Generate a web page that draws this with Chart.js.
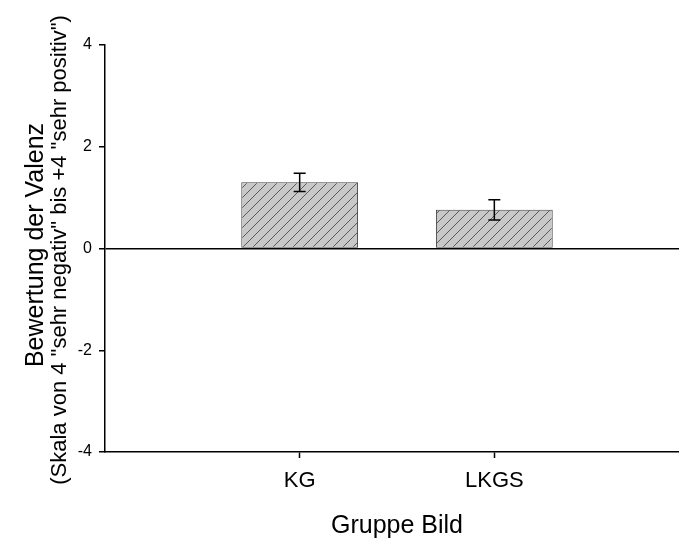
<!DOCTYPE html>
<html>
<head>
<meta charset="utf-8">
<script src="https://cdn.jsdelivr.net/npm/chart.js@4.4.0/dist/chart.umd.min.js"></script>
<style>
  html, body { margin: 0; padding: 0; background: #fff; overflow: hidden; }
  #wrap { width: 689px; height: 539px; }
</style>
</head>
<body>
<div id="wrap"><canvas id="valenzChart" width="689" height="539"></canvas></div>
<script>
  // Values
  const categories = ["KG", "LKGS"];
  const means = [1.30, 0.76];
  const errors = [0.18, 0.20];
  const yTicks = [-4, -2, 0, 2, 4];

  const yTitle = "Bewertung der Valenz";
  const ySubTitle = '(Skala von 4 "sehr negativ" bis +4 "sehr positiv")';
  const xTitle = "Gruppe Bild";

  const FONT = "'Liberation Sans', Arial, sans-serif";

  (function () {
    "use strict";

    const canvas = document.getElementById("valenzChart");
    const ctx = canvas.getContext("2d");

    // diagonal hatch fill for the bars
    function makeHatch() {
      const c = document.createElement("canvas");
      c.width = 10;
      c.height = 10;
      const g = c.getContext("2d");
      g.fillStyle = "#c8c8c8";
      g.fillRect(0, 0, 10, 10);
      g.strokeStyle = "#5a5a5a";
      g.lineWidth = 1;
      g.beginPath();
      g.moveTo(0, 10); g.lineTo(10, 0);
      g.moveTo(-5, 5); g.lineTo(5, -5);
      g.moveTo(5, 15); g.lineTo(15, 5);
      g.stroke();
      return ctx.createPattern(c, "repeat");
    }

    // error bars drawn on top of the bars
    const errorBars = {
      id: "errorBars",
      afterDatasetsDraw(chart) {
        const meta = chart.getDatasetMeta(0);
        const y = chart.scales.y;
        const c = chart.ctx;
        c.save();
        c.strokeStyle = "#000";
        c.lineWidth = 1.5;
        meta.data.forEach(function (bar, i) {
          const top = y.getPixelForValue(means[i] + errors[i]);
          const bot = y.getPixelForValue(means[i] - errors[i]);
          c.beginPath();
          c.moveTo(bar.x, top); c.lineTo(bar.x, bot);
          c.moveTo(bar.x - 6, top); c.lineTo(bar.x + 6, top);
          c.moveTo(bar.x - 6, bot); c.lineTo(bar.x + 6, bot);
          c.stroke();
        });
        c.restore();
      },
    };

    // axis titles (two sizes on the y side)
    const axisTitles = {
      id: "axisTitles",
      afterDraw(chart) {
        const a = chart.chartArea;
        const c = chart.ctx;
        c.save();
        c.fillStyle = "#000";
        c.textAlign = "center";
        c.textBaseline = "alphabetic";

        c.font = "25px " + FONT;
        c.fillText(xTitle, (a.left + a.right) / 2, 533);

        c.save();
        c.translate(43, 245);
        c.rotate(-Math.PI / 2);
        c.font = "25px " + FONT;
        c.fillText(yTitle, 0, 0);
        c.restore();

        c.save();
        c.translate(66, 250);
        c.rotate(-Math.PI / 2);
        c.font = "22px " + FONT;
        c.fillText(ySubTitle, 0, 0);
        c.restore();

        c.restore();
      },
    };

    new Chart(ctx, {
      type: "bar",
      data: {
        datasets: [
          {
            data: categories.map(function (c, i) {
              return { x: i + 1, y: means[i] };
            }),
            backgroundColor: makeHatch(),
            borderColor: "#444",
            borderWidth: 1,
            borderSkipped: false,
            categoryPercentage: 1,
            barPercentage: 0.6,
          },
        ],
      },
      options: {
        responsive: false,
        animation: false,
        layout: { padding: { top: 45, right: 0, bottom: 0, left: 0 } },
        plugins: {
          legend: { display: false },
          tooltip: { enabled: false },
        },
        scales: {
          x: {
            type: "linear",
            min: 0,
            max: 3,
            offset: false,
            afterBuildTicks: function (scale) {
              scale.ticks = categories.map(function (c, i) {
                return { value: i + 1 };
              });
            },
            afterFit: function (scale) {
              scale.height = 87;
            },
            grid: {
              offset: false,
              drawOnChartArea: false,
              tickLength: 6,
              tickColor: "#000",
              tickWidth: 1.5,
            },
            border: { color: "#000", width: 1.5 },
            ticks: {
              color: "#000",
              font: { family: FONT, size: 22 },
              padding: 10,
              maxRotation: 0,
              callback: function (value) {
                return categories[value - 1];
              },
            },
          },
          y: {
            min: -4,
            max: 4,
            afterBuildTicks: function (scale) {
              scale.ticks = yTicks.map(function (v) {
                return { value: v };
              });
            },
            afterFit: function (scale) {
              scale.width = 105;
            },
            grid: {
              color: function (c) {
                return c.tick && c.tick.value === 0 ? "#000" : "rgba(0,0,0,0)";
              },
              lineWidth: 1.5,
              tickLength: 6,
              tickColor: "#000",
              tickWidth: 1.5,
            },
            border: { color: "#000", width: 1.5 },
            ticks: {
              color: "#000",
              font: { family: FONT, size: 16 },
              padding: 7,
            },
          },
        },
      },
      plugins: [errorBars, axisTitles],
    });
  })();
</script>
</body>
</html>
